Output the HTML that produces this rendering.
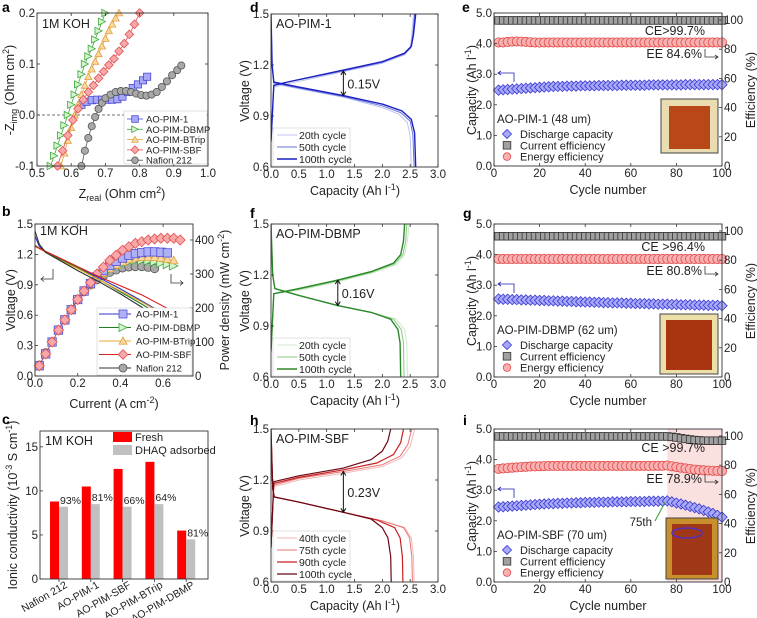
<!DOCTYPE html>
<html><head><meta charset="utf-8"><style>
html,body{margin:0;padding:0;background:#fff;}
svg{display:block;font-family:"Liberation Sans",Arial,sans-serif;}
</style></head><body>
<svg id="fig" width="757" height="618" viewBox="0 0 757 618" xmlns="http://www.w3.org/2000/svg"></svg>
<script>
// ---------- Panel a data (Nyquist) ----------
const aNames = ["AO-PIM-1","AO-PIM-DBMP","AO-PIM-BTrip","AO-PIM-SBF","Nafion 212"];
const aPim1X = [0.63,0.645,0.66,0.675,0.69,0.705,0.72,0.735,0.75,0.765,0.78,0.795,0.81,0.822];
const aPim1Y = [0.02,0.026,0.029,0.03,0.03,0.03,0.03,0.031,0.036,0.045,0.053,0.06,0.068,0.075];
const aDbmpX = [0.54,0.55,0.56,0.57,0.58,0.59,0.6,0.61,0.62,0.63,0.64,0.65,0.66,0.67,0.68,0.69,0.70];
const aDbmpY = [-0.1,-0.08,-0.06,-0.04,-0.02,0.0,0.02,0.04,0.06,0.08,0.1,0.115,0.13,0.148,0.165,0.183,0.2];
const aBtX = [0.57,0.58,0.59,0.6,0.61,0.62,0.63,0.64,0.65,0.66,0.67,0.68,0.69,0.70,0.71,0.72,0.73,0.74];
const aBtY = [-0.1,-0.075,-0.05,-0.025,0.0,0.02,0.04,0.058,0.075,0.09,0.105,0.12,0.135,0.15,0.165,0.178,0.19,0.2];
const aSbfX = [0.56,0.575,0.59,0.605,0.62,0.635,0.65,0.665,0.68,0.695,0.71,0.725,0.74,0.755,0.77,0.785,0.8];
const aSbfY = [-0.1,-0.07,-0.04,-0.01,0.012,0.03,0.045,0.058,0.072,0.085,0.098,0.11,0.125,0.14,0.158,0.178,0.2];
const aNafX = [0.63,0.64,0.65,0.66,0.67,0.68,0.69,0.7,0.715,0.73,0.745,0.76,0.775,0.79,0.805,0.82,0.835,0.85,0.865,0.88,0.895,0.91,0.922];
const aNafY = [-0.1,-0.07,-0.045,-0.022,-0.004,0.012,0.024,0.033,0.04,0.045,0.047,0.047,0.045,0.042,0.039,0.038,0.04,0.045,0.055,0.066,0.078,0.088,0.097];

// ---------- Panel b data (polarization) ----------
const bPim1I = [0,0.02,0.05,0.1,0.2,0.3,0.4,0.5,0.63];
const bPim1V = [1.38,1.28,1.22,1.17,1.07,0.97,0.86,0.74,0.58];
const bDbmpI = [0,0.05,0.1,0.2,0.3,0.4,0.5,0.64];
const bDbmpV = [1.29,1.22,1.17,1.07,0.95,0.83,0.71,0.53];
const bBtI = [0,0.05,0.1,0.2,0.3,0.4,0.5,0.65];
const bBtV = [1.28,1.22,1.16,1.06,0.95,0.84,0.73,0.55];
const bSbfI = [0,0.05,0.1,0.2,0.3,0.4,0.5,0.68];
const bSbfV = [1.28,1.23,1.18,1.08,0.98,0.89,0.8,0.6];
const bNafI = [0,0.02,0.05,0.1,0.2,0.3,0.4,0.5,0.57];
const bNafV = [1.43,1.3,1.22,1.16,1.04,0.93,0.81,0.68,0.56];
const bPI = [0.02,0.05,0.08,0.11,0.14,0.17,0.2,0.23,0.26,0.29,0.32,0.35,0.38,0.41,0.44,0.47,0.5,0.53,0.56,0.59,0.62,0.65,0.68];
const bPim1P = [30,65,100,135,165,195,225,250,272,292,310,325,337,347,355,360,363,365,365,364,362];
const bDbmpP = [30,65,100,135,165,195,222,246,266,284,300,312,322,330,336,340,340,339,336,332,328,324];
const bBtP = [30,65,100,135,165,195,223,248,268,287,303,316,327,336,343,348,350,350,349,347,344,340];
const bSbfP = [30,65,100,135,165,195,225,250,275,300,320,340,355,370,380,390,395,400,403,405,405,405,400];
const bNafP = [32,68,100,135,165,195,225,248,268,283,295,305,312,318,321,322,322,320,316];

// ---------- Panel c data (conductivity) ----------
const cCats = ["Nafion 212","AO-PIM-1","AO-PIM-SBF","AO-PIM-BTrip","AO-PIM-DBMP"];
const cFresh = [8.8,10.5,12.5,13.3,5.5];
const cDhaq = [8.2,8.5,8.2,8.5,4.5];
const cPct = ["93%","81%","66%","64%","81%"];

// ---------- Panels d,f,h data (charge/discharge [capacity, voltage]) ----------
const d20C = [[0,0.75],[0.05,1.07],[0.3,1.09],[1.3,1.16],[2.0,1.21],[2.4,1.26],[2.5,1.3],[2.53,1.38],[2.56,1.5]];
const d20D = [[0,1.5],[0.02,1.2],[0.05,1.09],[0.5,1.06],[1.3,1.01],[2.0,0.95],[2.3,0.91],[2.45,0.86],[2.5,0.78],[2.52,0.6]];
const d50C = [[0,0.75],[0.05,1.08],[0.3,1.1],[1.3,1.165],[2.0,1.215],[2.4,1.265],[2.51,1.3],[2.55,1.38],[2.58,1.5]];
const d50D = [[0,1.5],[0.02,1.2],[0.05,1.095],[0.5,1.065],[1.3,1.015],[2.0,0.96],[2.33,0.92],[2.5,0.87],[2.55,0.79],[2.57,0.6]];
const d100C = [[0,0.75],[0.05,1.08],[0.3,1.1],[1.3,1.17],[2.0,1.22],[2.4,1.27],[2.52,1.31],[2.56,1.38],[2.6,1.5]];
const d100D = [[0,1.5],[0.02,1.2],[0.05,1.1],[0.5,1.07],[1.3,1.02],[2.0,0.97],[2.35,0.93],[2.52,0.88],[2.58,0.8],[2.6,0.6]];
const f20C = [[0,0.75],[0.05,1.09],[0.5,1.11],[1.2,1.16],[1.8,1.21],[2.25,1.26],[2.4,1.32],[2.45,1.4],[2.48,1.5]];
const f20D = [[0,1.5],[0.03,1.2],[0.07,1.12],[0.5,1.08],[1.2,1.02],[1.8,0.98],[2.25,0.94],[2.4,0.88],[2.44,0.8],[2.45,0.6]];
const f50C = [[0,0.75],[0.05,1.09],[0.5,1.115],[1.2,1.165],[1.8,1.215],[2.22,1.265],[2.37,1.32],[2.42,1.4],[2.44,1.5]];
const f50D = [[0,1.5],[0.03,1.2],[0.07,1.12],[0.5,1.08],[1.2,1.02],[1.8,0.98],[2.2,0.94],[2.34,0.88],[2.38,0.8],[2.39,0.6]];
const f100C = [[0,0.75],[0.05,1.09],[0.5,1.12],[1.2,1.17],[1.8,1.22],[2.2,1.27],[2.33,1.32],[2.38,1.4],[2.4,1.5]];
const f100D = [[0,1.5],[0.03,1.2],[0.07,1.12],[0.5,1.08],[1.2,1.02],[1.8,0.98],[2.15,0.94],[2.28,0.88],[2.32,0.8],[2.33,0.6]];
const h40C = [[0,0.8],[0.05,1.16],[0.5,1.2],[1.3,1.24],[2.0,1.28],[2.35,1.33],[2.5,1.4],[2.58,1.5]];
const h40D = [[0,1.5],[0.03,1.15],[0.06,1.1],[0.5,1.07],[1.3,1.01],[2.0,0.96],[2.4,0.92],[2.52,0.86],[2.56,0.75],[2.57,0.6]];
const h75C = [[0,0.8],[0.05,1.17],[0.5,1.21],[1.3,1.25],[2.0,1.29],[2.32,1.34],[2.46,1.41],[2.53,1.5]];
const h75D = [[0,1.5],[0.03,1.15],[0.06,1.1],[0.5,1.07],[1.3,1.01],[2.0,0.96],[2.38,0.92],[2.49,0.86],[2.53,0.75],[2.54,0.6]];
const h90C = [[0,0.8],[0.05,1.18],[0.5,1.215],[1.3,1.26],[1.9,1.3],[2.2,1.35],[2.33,1.42],[2.38,1.5]];
const h90D = [[0,1.5],[0.03,1.15],[0.06,1.1],[0.5,1.07],[1.3,1.01],[1.9,0.965],[2.22,0.92],[2.32,0.86],[2.36,0.75],[2.37,0.6]];
const h100C = [[0,0.8],[0.05,1.19],[0.5,1.225],[1.3,1.27],[1.8,1.32],[2.0,1.37],[2.1,1.43],[2.15,1.5]];
const h100D = [[0,1.5],[0.03,1.15],[0.06,1.1],[0.5,1.07],[1.3,1.01],[1.8,0.97],[2.0,0.92],[2.1,0.86],[2.15,0.75],[2.16,0.6]];

// ---------- Panels e,g,i data (every 2nd cycle) ----------
const cycles = [2,4,6,8,10,12,14,16,18,20,22,24,26,28,30,32,34,36,38,40,42,44,46,48,50,52,54,56,58,60,62,64,66,68,70,72,74,76,78,80,82,84,86,88,90,92,94,96,98,100];
const eCap = [2.48,2.49,2.5,2.51,2.52,2.53,2.54,2.55,2.56,2.57,2.58,2.59,2.6,2.6,2.6,2.61,2.61,2.61,2.62,2.62,2.62,2.62,2.63,2.63,2.63,2.63,2.63,2.64,2.64,2.64,2.64,2.64,2.64,2.65,2.65,2.65,2.65,2.65,2.65,2.65,2.65,2.66,2.66,2.66,2.66,2.66,2.66,2.66,2.66,2.66];
const eCE = [99.7,99.7,99.7,99.7,99.7,99.7,99.7,99.7,99.7,99.7,99.7,99.7,99.7,99.7,99.7,99.7,99.7,99.7,99.7,99.7,99.7,99.7,99.7,99.7,99.7,99.7,99.7,99.7,99.7,99.7,99.7,99.7,99.7,99.7,99.7,99.7,99.7,99.7,99.7,99.7,99.7,99.7,99.7,99.7,99.7,99.7,99.7,99.7,99.7,99.7];
const eEE = [84.6,84.6,85.0,85.2,85.3,85.2,85.0,84.8,84.6,84.5,84.6,84.6,84.6,84.6,84.6,84.6,84.6,84.6,84.6,84.6,84.6,84.6,84.6,84.6,84.6,84.6,84.6,84.6,84.6,84.6,84.6,84.6,84.6,84.6,84.6,84.6,84.6,84.6,84.6,84.6,84.6,84.6,84.6,84.6,84.6,84.6,84.6,84.6,84.6,84.6];
const gCap = [2.55,2.54,2.54,2.53,2.53,2.52,2.52,2.51,2.51,2.5,2.5,2.49,2.49,2.48,2.48,2.47,2.47,2.46,2.46,2.45,2.45,2.44,2.44,2.43,2.43,2.42,2.42,2.42,2.41,2.41,2.4,2.4,2.4,2.39,2.39,2.38,2.38,2.38,2.37,2.37,2.36,2.36,2.36,2.35,2.35,2.35,2.34,2.34,2.34,2.33];
const gCE = [96.4,96.4,96.4,96.4,96.4,96.4,96.4,96.4,96.4,96.4,96.4,96.4,96.4,96.4,96.4,96.4,96.4,96.4,96.4,96.4,96.4,96.4,96.4,96.4,96.4,96.4,96.4,96.4,96.4,96.4,96.4,96.4,96.4,96.4,96.4,96.4,96.4,96.4,96.4,96.4,96.4,96.4,96.4,96.4,96.4,96.4,96.4,96.4,96.4,96.4];
const gEE = [80.8,80.8,80.8,80.8,80.8,80.8,80.8,80.8,80.8,80.8,80.8,80.8,80.8,80.8,80.8,80.8,80.8,80.8,80.8,80.8,80.8,80.8,80.8,80.8,80.8,80.8,80.8,80.8,80.8,80.8,80.8,80.8,80.8,80.8,80.8,80.8,80.8,80.8,80.8,80.8,80.8,80.8,80.8,80.8,80.8,80.8,80.8,80.8,80.8,80.8];
const iCap = [2.45,2.46,2.47,2.48,2.49,2.5,2.51,2.52,2.53,2.54,2.55,2.56,2.56,2.57,2.57,2.58,2.58,2.59,2.59,2.6,2.6,2.6,2.61,2.61,2.61,2.62,2.62,2.62,2.62,2.63,2.63,2.63,2.63,2.64,2.64,2.64,2.64,2.65,2.62,2.58,2.55,2.51,2.47,2.43,2.39,2.34,2.29,2.24,2.18,2.12];
const iCE = [99.7,99.7,99.7,99.7,99.7,99.7,99.7,99.7,99.7,99.7,99.7,99.7,99.7,99.7,99.7,99.7,99.7,99.7,99.7,99.7,99.7,99.7,99.7,99.7,99.7,99.7,99.7,99.7,99.7,99.7,99.7,99.7,99.7,99.7,99.7,99.7,99.7,99.7,99.4,99.0,98.5,98.0,97.6,97.2,97.0,96.8,96.8,96.8,96.8,96.8];
const iEE = [77.5,77.8,78.0,78.3,78.5,78.7,78.9,79.1,79.2,79.3,79.4,79.5,79.5,79.5,79.5,79.5,79.5,79.5,79.5,79.5,79.5,79.5,79.5,79.5,79.5,79.5,79.5,79.5,79.5,79.5,79.5,79.5,79.5,79.5,79.6,79.6,79.6,79.8,79.3,78.8,78.3,77.8,77.4,77.0,76.7,76.5,76.3,76.2,76.1,76.0];

// ---------- helpers ----------
const NS = "http://www.w3.org/2000/svg";
const svg = document.getElementById("fig");
function mk(parent, tag, attrs, name, txt) {
  const el = document.createElementNS(NS, tag);
  for (const k in attrs) el.setAttribute(k, attrs[k]);
  
  
  if (txt !== undefined) el.textContent = txt;
  parent.appendChild(el);
  return el;
}
function lin(d0, d1, r0, r1) { return v => r0 + (v - d0) / (d1 - d0) * (r1 - r0); }
function grp(name) { return mk(svg, "g", {}, name); }
function frame(g, x0, y0, x1, y1) {
  mk(g, "rect", {x:x0, y:y0, width:x1-x0, height:y1-y0, fill:"none", stroke:"#333", "stroke-width":0.9}, "plot-frame");
}
function xTicks(g, sx, vals, labels, yb, yt) {
  vals.forEach((v, i) => {
    const x = sx(v);
    mk(g, "line", {x1:x, x2:x, y1:yb, y2:yb-3, stroke:"#333", "stroke-width":0.8}, "x-tick");
    if (yt !== undefined) mk(g, "line", {x1:x, x2:x, y1:yt, y2:yt+3, stroke:"#333", "stroke-width":0.8}, "x-tick-top");
    mk(g, "text", {x:x, y:yb+11, "font-size":11.5, "text-anchor":"middle", fill:"#222"}, "x-tick-label", labels[i]);
  });
}
function yTicks(g, sy, vals, labels, xl, side, xr) {
  vals.forEach((v, i) => {
    const y = sy(v);
    if (side === "left") {
      mk(g, "line", {x1:xl, x2:xl+3, y1:y, y2:y, stroke:"#333", "stroke-width":0.8}, "y-tick");
      if (xr !== undefined) mk(g, "line", {x1:xr, x2:xr-3, y1:y, y2:y, stroke:"#333", "stroke-width":0.8}, "y-tick-right");
      mk(g, "text", {x:xl-2, y:y+4, "font-size":11.5, "text-anchor":"end", fill:"#222"}, "y-tick-label", labels[i]);
    } else {
      mk(g, "line", {x1:xl, x2:xl-3, y1:y, y2:y, stroke:"#333", "stroke-width":0.8}, "y2-tick");
      mk(g, "text", {x:xl+2, y:y+4, "font-size":11.5, "text-anchor":"start", fill:"#222"}, "y2-tick-label", labels[i]);
    }
  });
}
function vtitle(g, x, y, html, name) {
  const t = mk(g, "text", {x:0, y:0, transform:`translate(${x},${y}) rotate(-90)`, "font-size":12.5, "text-anchor":"middle", fill:"#222"}, name);
  t.innerHTML = html;
  return t;
}
function htitle(g, x, y, html, name) {
  const t = mk(g, "text", {x:x, y:y, "font-size":12.5, "text-anchor":"middle", fill:"#222"}, name);
  t.innerHTML = html;
  return t;
}
function marker(g, shape, x, y, r, fill, stroke, name) {
  let el;
  if (shape === "square") el = mk(g, "rect", {x:x-r, y:y-r, width:2*r, height:2*r, fill:fill, stroke:stroke, "stroke-width":0.8}, name);
  else if (shape === "circle") el = mk(g, "circle", {cx:x, cy:y, r:r, fill:fill, stroke:stroke, "stroke-width":0.8}, name);
  else if (shape === "diamond") el = mk(g, "polygon", {points:`${x},${y-r*1.2} ${x+r*1.2},${y} ${x},${y+r*1.2} ${x-r*1.2},${y}`, fill:fill, stroke:stroke, "stroke-width":0.8}, name);
  else if (shape === "tri-right") el = mk(g, "polygon", {points:`${x-r},${y-r} ${x+r},${y} ${x-r},${y+r}`, fill:fill, stroke:stroke, "stroke-width":0.8}, name);
  else if (shape === "tri-up") el = mk(g, "polygon", {points:`${x},${y-r} ${x+r},${y+r*0.8} ${x-r},${y+r*0.8}`, fill:fill, stroke:stroke, "stroke-width":0.8}, name);
  return el;
}
function pathFrom(xs, ys, sx, sy) { return xs.map((v, i) => (i ? "L" : "M") + sx(v).toFixed(1) + "," + sy(ys[i]).toFixed(1)).join(" "); }
function pathPairs(pts, sx, sy) { return pts.map((p, i) => (i ? "L" : "M") + sx(p[0]).toFixed(1) + "," + sy(p[1]).toFixed(1)).join(" "); }
function letter(x, y, s) { mk(svg, "text", {x:x, y:y, "font-size":14, "font-weight":"bold", fill:"#000"}, "panel-label-" + s, s); }

// ---------- Panel a ----------
(function(){
  const g = grp("panel-a-nyquist");
  const X0=37, X1=208, Y0=13, Y1=166;
  const sx = lin(0.5, 1.0, X0, X1), sy = lin(-0.1, 0.2, Y1, Y0);
  mk(g, "line", {x1:X0, x2:X1, y1:sy(0), y2:sy(0), stroke:"#444", "stroke-width":0.8, "stroke-dasharray":"3,2"}, "zero-line");
  const series = [
    [aPim1X, aPim1Y, "square", "#a8a8f4", "#4a4ad8", "#4a4ad8"],
    [aDbmpX, aDbmpY, "tri-right", "#d4f4cc", "#40a840", "#40a840"],
    [aBtX, aBtY, "tri-up", "#fad8a0", "#e0a040", "#e0a040"],
    [aSbfX, aSbfY, "diamond", "#f8a8a8", "#e05050", "#e05050"],
    [aNafX, aNafY, "circle", "#a8a8a8", "#555", "#555"]
  ];
  series.forEach((s, k) => {
    mk(g, "path", {d:pathFrom(s[0], s[1], sx, sy), fill:"none", stroke:s[5], "stroke-width":0.8}, "nyquist-line-" + k);
    s[0].forEach((v, i) => marker(g, s[2], sx(v), sy(s[1][i]), 3.6, s[3], s[4], "nyquist-point"));
  });
  frame(g, X0, Y0, X1, Y1);
  xTicks(g, sx, [0.5,0.6,0.7,0.8,0.9,1.0], ["0.5","0.6","0.7","0.8","0.9","1.0"], Y1, Y0);
  yTicks(g, sy, [-0.1,0.0,0.1,0.2], ["-0.1","0.0","0.1","0.2"], X0, "left", X1);
  mk(g, "text", {x:42, y:28, "font-size":12.5, fill:"#222"}, "electrolyte-label", "1M KOH");
  vtitle(g, 14, 90, '-Z<tspan font-size="9" dy="3">img</tspan><tspan dy="-3"> (Ohm cm</tspan><tspan font-size="9" dy="-5">2</tspan><tspan dy="5">)</tspan>', "y-axis-title");
  htitle(g, 122, 198, 'Z<tspan font-size="9" dy="3">real</tspan><tspan dy="-3"> (Ohm cm</tspan><tspan font-size="9" dy="-5">2</tspan><tspan dy="5">)</tspan>', "x-axis-title");
  const lg = mk(g, "g", {}, "legend");
  mk(lg, "rect", {x:124, y:111, width:83, height:53, fill:"#fff", stroke:"#ccc", "stroke-width":0.6}, "legend-box");
  series.forEach((s, k) => {
    const y = 119 + k * 10.3;
    mk(lg, "line", {x1:127, x2:143, y1:y, y2:y, stroke:s[5], "stroke-width":0.8}, "legend-line");
    marker(lg, s[2], 135, y, 3.3, s[3], s[4], "legend-marker");
    mk(lg, "text", {x:146, y:y+3.5, "font-size":9.5, fill:"#222"}, "legend-entry", aNames[k]);
  });
})();

// ---------- Panel b ----------
(function(){
  const g = grp("panel-b-polarization");
  const X0=35, X1=193, Y0=224, Y1=376;
  const sx = lin(0, 0.74, X0, X1), sy = lin(0, 1.5, Y1, Y0), sp = lin(0, 447, Y1, Y0);
  const vSer = [[bPim1I,bPim1V,"#3030c8"],[bDbmpI,bDbmpV,"#208020"],[bBtI,bBtV,"#e8a828"],[bSbfI,bSbfV,"#d82020"],[bNafI,bNafV,"#303030"]];
  const pSer = [[bPim1P,"square","#b0b0f4","#5050d8"],[bDbmpP,"tri-right","#d4f4cc","#40a840"],[bBtP,"tri-up","#fad8a0","#e0a040"],[bSbfP,"diamond","#f8a8a8","#e05050"],[bNafP,"circle","#a8a8a8","#555"]];
  [4,1,2,0,3].forEach(k => {
    const s = pSer[k];
    const xs = bPI.slice(0, s[0].length);
    mk(g, "path", {d:pathFrom(xs, s[0], sx, sp), fill:"none", stroke:s[3], "stroke-width":0.7}, "power-line");
    xs.forEach((v, i) => marker(g, s[1], sx(v), sp(s[0][i]), 4.2, s[2], s[3], "power-point"));
  });
  vSer.forEach(s => mk(g, "path", {d:pathFrom(s[0], s[1], sx, sy), fill:"none", stroke:s[2], "stroke-width":1.1}, "voltage-curve"));
  frame(g, X0, Y0, X1, Y1);
  xTicks(g, sx, [0,0.2,0.4,0.6], ["0.0","0.2","0.4","0.6"], Y1, Y0);
  yTicks(g, sy, [0,0.3,0.6,0.9,1.2,1.5], ["0.0","0.3","0.6","0.9","1.2","1.5"], X0, "left");
  yTicks(g, sp, [0,100,200,300,400], ["0","100","200","300","400"], X1, "right");
  mk(g, "text", {x:40, y:235, "font-size":12.5, fill:"#222"}, "electrolyte-label", "1M  KOH");
  vtitle(g, 15, 300, "Voltage (V)", "y-axis-title");
  vtitle(g, 229, 300, 'Power density (mW cm<tspan font-size="9" dy="-5">-2</tspan><tspan dy="5">)</tspan>', "y2-axis-title");
  htitle(g, 114, 408, 'Current (A cm<tspan font-size="9" dy="-5">-2</tspan><tspan dy="5">)</tspan>', "x-axis-title");
  mk(g, "path", {d:"M53,269 L53,279 L41,279 M44,276.5 L41,279 L44,281.5", fill:"none", stroke:"#333", "stroke-width":0.8}, "left-axis-arrow");
  mk(g, "path", {d:"M171,274 L171,283 L183,283 M180,280.5 L183,283 L180,285.5", fill:"none", stroke:"#333", "stroke-width":0.8}, "right-axis-arrow");
  const lg = mk(g, "g", {}, "legend");
  mk(lg, "rect", {x:97, y:308, width:95, height:67, fill:"#fff", stroke:"#ccc", "stroke-width":0.6}, "legend-box");
  aNames.forEach((n, k) => {
    const y = 314 + k * 13.5;
    mk(lg, "line", {x1:99, x2:131, y1:y, y2:y, stroke:vSer[k][2], "stroke-width":1}, "legend-line");
    marker(lg, pSer[k][1], 123, y, 4, pSer[k][2], pSer[k][3], "legend-marker");
    mk(lg, "text", {x:136, y:y+3.5, "font-size":9.5, fill:"#222"}, "legend-entry", n);
  });
})();

// ---------- Panel c ----------
(function(){
  const g = grp("panel-c-conductivity");
  const X0=40, X1=208, Y0=431, Y1=579;
  const sy = lin(0, 16.8, Y1, Y0);
  const cx = i => 59 + 31.8 * i;
  cCats.forEach((c, i) => {
    mk(g, "rect", {x:cx(i)-9, y:sy(cFresh[i]), width:9, height:Y1-sy(cFresh[i]), fill:"#ff0000"}, "bar-fresh");
    mk(g, "rect", {x:cx(i), y:sy(cDhaq[i]), width:9, height:Y1-sy(cDhaq[i]), fill:"#c0c0c0"}, "bar-dhaq");
    mk(g, "text", {x:cx(i)+1, y:sy(cDhaq[i])-3, "font-size":10.5, fill:"#222"}, "retention-label", cPct[i]);
    mk(g, "line", {x1:cx(i), x2:cx(i), y1:Y1, y2:Y1+3, stroke:"#333", "stroke-width":0.8}, "x-tick");
    mk(g, "text", {x:0, y:0, transform:`translate(${cx(i)+9},${Y1+8}) rotate(-30)`, "font-size":10.5, "text-anchor":"end", fill:"#222"}, "x-tick-label", c);
  });
  frame(g, X0, Y0, X1, Y1);
  yTicks(g, sy, [0,5,10,15], ["0","5","10","15"], X0, "left");
  mk(g, "text", {x:45, y:445, "font-size":12.5, fill:"#222"}, "electrolyte-label", "1M KOH");
  vtitle(g, 17, 505, 'Ionic conductivity (10<tspan font-size="9" dy="-5">-3</tspan><tspan dy="5"> S cm</tspan><tspan font-size="9" dy="-5">-1</tspan><tspan dy="5">)</tspan>', "y-axis-title");
  mk(g, "rect", {x:113, y:432, width:19, height:10, fill:"#ff0000"}, "legend-swatch-fresh");
  mk(g, "text", {x:135, y:441, "font-size":11, fill:"#222"}, "legend-entry", "Fresh");
  mk(g, "rect", {x:113, y:445, width:19, height:10, fill:"#c0c0c0"}, "legend-swatch-dhaq");
  mk(g, "text", {x:135, y:454, "font-size":11, fill:"#222"}, "legend-entry", "DHAQ adsorbed");
})();

// ---------- Panels d,f,h ----------
function cdPanel(name, Y0, title, cyc, labels, colors, widths, gapCap, gapV1, gapV2, gapLabel) {
  const g = grp(name);
  const X0=271, X1=438, Y1=Y0+153;
  const sx = lin(0, 3, X0, X1), sy = lin(0.6, 1.5, Y1, Y0);
  const cp = mk(g, "clipPath", {id:name+"-clip"}, "clip");
  mk(cp, "rect", {x:X0, y:Y0, width:X1-X0, height:Y1-Y0}, "clip-rect");
  const cg = mk(g, "g", {"clip-path":`url(#${name}-clip)`}, "curves");
  cyc.forEach((c, k) => {
    mk(cg, "path", {d:pathPairs(c[0], sx, sy), fill:"none", stroke:colors[k], "stroke-width":widths[k]}, "charge-curve");
    mk(cg, "path", {d:pathPairs(c[1], sx, sy), fill:"none", stroke:colors[k], "stroke-width":widths[k]}, "discharge-curve");
  });
  frame(g, X0, Y0, X1, Y1);
  xTicks(g, sx, [0,0.5,1,1.5,2,2.5,3], ["0.0","0.5","1.0","1.5","2.0","2.5","3.0"], Y1, Y0);
  yTicks(g, sy, [0.6,0.9,1.2,1.5], ["0.6","0.9","1.2","1.5"], X0, "left", X1);
  mk(g, "text", {x:276, y:Y0+14, "font-size":12.5, fill:"#222"}, "panel-title", title);
  vtitle(g, 249, Y0+77, "Voltage (V)", "y-axis-title");
  htitle(g, 355, Y1+28, 'Capacity (Ah l<tspan font-size="9" dy="-5">-1</tspan><tspan dy="5">)</tspan>', "x-axis-title");
  const ax = sx(gapCap), ya = sy(gapV1), yb = sy(gapV2);
  mk(g, "path", {d:`M${ax},${ya} L${ax},${yb} M${ax-2.5},${ya+4} L${ax},${ya} L${ax+2.5},${ya+4} M${ax-2.5},${yb-4} L${ax},${yb} L${ax+2.5},${yb-4}`, fill:"none", stroke:"#111", "stroke-width":1}, "voltage-gap-arrow");
  mk(g, "text", {x:ax+4, y:(ya+yb)/2+5, "font-size":12.5, fill:"#222"}, "voltage-gap-label", gapLabel);
  const n = labels.length;
  const lx = 272, ly = Y1 - 12 * n - 3;
  mk(g, "rect", {x:lx+1, y:ly, width:77, height:12*n+2, fill:"#fff", stroke:"#ccc", "stroke-width":0.6}, "legend-box");
  labels.forEach((l, k) => {
    const y = ly + 7 + 12 * k;
    mk(g, "line", {x1:lx+5, x2:lx+25, y1:y, y2:y, stroke:colors[k], "stroke-width":widths[k]}, "legend-line");
    mk(g, "text", {x:lx+27, y:y+4, "font-size":10.5, fill:"#222"}, "legend-entry", l);
  });
}
cdPanel("panel-d-ao-pim-1", 14, "AO-PIM-1", [[d20C,d20D],[d50C,d50D],[d100C,d100D]], ["20th cycle","50th cycle","100th cycle"], ["#c0c4f0","#6a70e0","#1a20c0"], [1,1,1.4], 1.3, 1.165, 1.02, "0.15V");
cdPanel("panel-f-ao-pim-dbmp", 224, "AO-PIM-DBMP", [[f20C,f20D],[f50C,f50D],[f100C,f100D]], ["20th cycle","50th cycle","100th cycle"], ["#d0e8c8","#88c880","#2a882a"], [1,1,1.4], 1.2, 1.17, 1.02, "0.16V");
cdPanel("panel-h-ao-pim-sbf", 429, "AO-PIM-SBF", [[h40C,h40D],[h75C,h75D],[h90C,h90D],[h100C,h100D]], ["40th cycle","75th cycle","90th cycle","100th cycle"], ["#f0b8b8","#e87474","#c82020","#6a0814"], [1,1,1.2,1.2], 1.3, 1.25, 1.01, "0.23V");

// ---------- Panels e,g,i ----------
function cyPanel(name, Y0, cap, ce, ee, title, ceLbl, eeLbl, ceY, eeY, shade, inset) {
  const g = grp(name);
  const X0=494, X1=722, Y1=Y0+153;
  const sx = lin(0, 100, X0, X1), sc = lin(0, 5, Y1, Y0), se = lin(0, 100, Y1, Y1-146);
  if (shade) mk(g, "rect", {x:sx(76), y:Y0, width:X1-sx(76), height:Y1-Y0, fill:"#fbe0e0"}, "degradation-region");
  cycles.forEach((c, i) => marker(g, "square", sx(c), se(ce[i]), 3.8, "#a0a0a0", "#333", "ce-point"));
  cycles.forEach((c, i) => marker(g, "circle", sx(c), se(ee[i]), 4.6, "#f8b0b0", "#e04848", "ee-point"));
  cycles.forEach((c, i) => marker(g, "diamond", sx(c), sc(cap[i]), 4.3, "#a8a8f8", "#3838d0", "capacity-point"));
  frame(g, X0, Y0, X1, Y1);
  xTicks(g, sx, [0,20,40,60,80,100], ["0","20","40","60","80","100"], Y1, Y0);
  yTicks(g, sc, [0,1,2,3,4,5], ["0.0","1.0","2.0","3.0","4.0","5.0"], X0, "left");
  yTicks(g, se, [0,20,40,60,80,100], ["0","20","40","60","80","100"], X1, "right");
  vtitle(g, 476, Y0+77, 'Capacity (Ah l<tspan font-size="9" dy="-5">-1</tspan><tspan dy="5">)</tspan>', "y-axis-title");
  vtitle(g, 755, Y0+77, "Efficiency (%)", "y2-axis-title");
  htitle(g, 608, Y1+28, "Cycle number", "x-axis-title");
  mk(g, "text", {x:705, y:Y0+ceY, "font-size":12.5, "text-anchor":"end", fill:"#222"}, "ce-annotation", ceLbl);
  mk(g, "text", {x:702, y:Y0+eeY, "font-size":12.5, "text-anchor":"end", fill:"#222"}, "ee-annotation", eeLbl);
  mk(g, "path", {d:`M705,${Y0+eeY-9} L705,${Y0+eeY-1} L718,${Y0+eeY-1} M715,${Y0+eeY-3} L718,${Y0+eeY-1} L715,${Y0+eeY+1}`, fill:"none", stroke:"#333", "stroke-width":0.8}, "ee-right-arrow");
  mk(g, "path", {d:`M514,${Y0+69} L514,${Y0+60} L498,${Y0+60} M501,${Y0+58} L498,${Y0+60} L501,${Y0+62}`, fill:"none", stroke:"#2020b0", "stroke-width":0.8}, "capacity-left-arrow");
  mk(g, "text", {x:497, y:Y0+110, "font-size":11.5, fill:"#222"}, "membrane-label", title);
  const ents = [["diamond","#a8a8f8","#3838d0","Discharge capacity"],["square","#a0a0a0","#333","Current efficiency"],["circle","#f8b0b0","#e04848","Energy efficiency"]];
  ents.forEach((e, k) => {
    const y = Y0 + 121 + 11.3 * k;
    marker(g, e[0], 507, y, 3.8, e[1], e[2], "legend-marker");
    mk(g, "text", {x:520, y:y+4, "font-size":11, fill:"#222"}, "legend-entry", e[3]);
  });
  const ph = mk(g, "g", {}, "membrane-photo");
  mk(ph, "rect", {x:inset[0], y:Y0+inset[1], width:inset[2], height:inset[3], fill:inset[4], stroke:"#444", "stroke-width":1}, "photo-background");
  mk(ph, "rect", {x:inset[0]+inset[5], y:Y0+inset[1]+inset[6], width:inset[2]-2*inset[5], height:inset[3]-inset[6]-4, fill:inset[7]}, "membrane-sample");
  return {g, sx, sc, Y0};
}
cyPanel("panel-e-ao-pim-1-cycling", 13, eCap, eCE, eEE, "AO-PIM-1 (48 um)", "CE>99.7%", "EE 84.6%", 22, 45, false, [661,86,57,54,"#e8dcb0",8,7,"#b84818"]);
cyPanel("panel-g-ao-pim-dbmp-cycling", 224, gCap, gCE, gEE, "AO-PIM-DBMP (62 um)", "CE >96.4%", "EE 80.8%", 27, 51, false, [660,90,58,60,"#ece0a8",6,6,"#a83410"]);
const pi = cyPanel("panel-i-ao-pim-sbf-cycling", 429, iCap, iCE, iEE, "AO-PIM-SBF (70 um)", "CE >99.7%", "EE 78.9%", 23, 54, true, [666,89,52,61,"#c8902c",6,6,"#a03818"]);
mk(pi.g, "ellipse", {cx:687, cy:533, rx:15, ry:5, fill:"none", stroke:"#5030c0", "stroke-width":1.5}, "marked-region");
mk(pi.g, "path", {d:`M665,${pi.sc(2.6)} L655,${pi.Y0+92}`, fill:"none", stroke:"#30a030", "stroke-width":1}, "75th-pointer");
mk(pi.g, "text", {x:652, y:pi.Y0+97, "font-size":11.5, "text-anchor":"end", fill:"#222"}, "75th-label", "75th");

// ---------- panel letters ----------
letter(2, 12, "a"); letter(2, 216, "b"); letter(2, 424, "c");
letter(250, 12, "d"); letter(250, 218, "f"); letter(250, 425, "h");
letter(462, 12, "e"); letter(463, 218, "g"); letter(463, 425, "i");
</script>
</body></html>
